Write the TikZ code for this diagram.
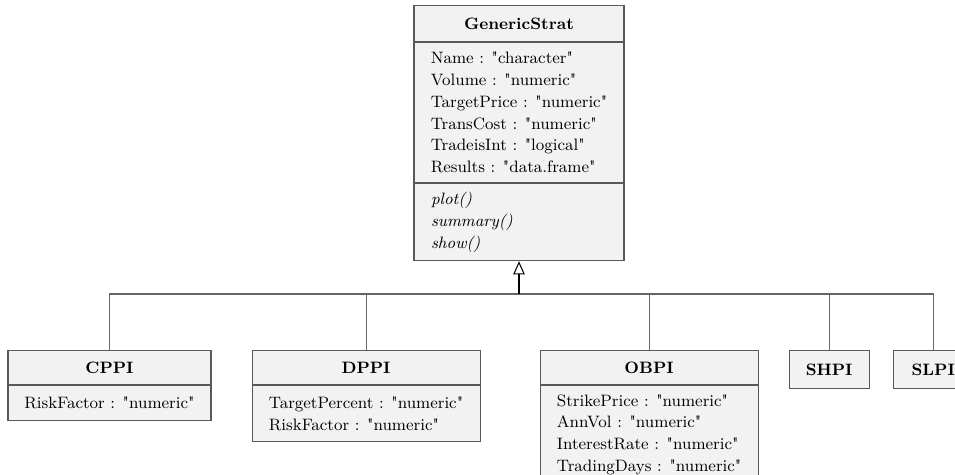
\documentclass[tikz,border=0pt]{standalone}
\usetikzlibrary{arrows.meta}
\usetikzlibrary{positioning}

\newcommand{\qstr}[1]{\textquotedbl#1\textquotedbl}

\begin{document}
\begin{tikzpicture}[node distance=0cm,
                every node/.style = {anchor=north, font=\fontsize{9.4pt}{12.4pt}\selectfont},
                classhead/.style = {draw=black!65, fill=black!5, line width=0.6pt, font=\fontsize{9.4pt}{12.4pt}\selectfont\bfseries, inner sep=0pt},
                classbody/.style = {draw=black!65, fill=black!5, line width=0.6pt, align=left, inner sep=0pt},
                inherit/.style = {draw=black!60, line width=0.6pt}]
            \useasboundingbox (0,0) rectangle (19.1,-9.5);

            \node (c_generic) [classhead, minimum width=4.2cm, minimum height=0.72cm] at (10.38,-0.1) {GenericStrat};
            \node (c_generic_attr) [classbody, below = of c_generic, minimum width=4.2cm, minimum height=2.8cm]
                {Name : \qstr{character} \\ Volume : \qstr{numeric} \\ TargetPrice : \qstr{numeric} \\ TransCost : \qstr{numeric} \\ TradeisInt : \qstr{logical} \\ Results : \qstr{data.frame}};
            \node (c_generic_meth) [classbody, below = of c_generic_attr, text width=3.52cm, inner xsep=0.34cm, minimum height=1.54cm]
                {\textit{plot()} \\ \textit{summary()} \\ \textit{show()}};

            \node (c_cppi) [classhead, minimum width=4.06cm, minimum height=0.68cm] at (2.19,-7.0) {CPPI};
            \node (c_cppi_attr) [classbody, below = of c_cppi, minimum width=4.06cm, minimum height=0.7cm] {RiskFactor : \qstr{numeric}};

            \node (c_dppi) [classhead, minimum width=4.56cm, minimum height=0.68cm, right = 0.8 of c_cppi.north east, anchor=north west] {DPPI};
            \node (c_dppi_attr) [classbody, below = of c_dppi, minimum width=4.56cm, minimum height=1.12cm]
                {TargetPercent : \qstr{numeric} \\ RiskFactor : \qstr{numeric}};

            \node (c_obpi) [classhead, minimum width=4.36cm, minimum height=0.68cm, right = 1.18 of c_dppi.north east, anchor=north west] {OBPI};
            \node (c_obpi_attr) [classbody, below = of c_obpi, minimum width=4.36cm, minimum height=1.96cm]
                {StrikePrice : \qstr{numeric} \\ AnnVol : \qstr{numeric} \\ InterestRate : \qstr{numeric} \\ TradingDays : \qstr{numeric}};

            \node (c_shpi) [classhead, minimum width=1.6cm, minimum height=0.76cm, right = 0.6 of c_obpi.north east, anchor=north west] {SHPI};
            \node (c_slpi) [classhead, minimum width=1.6cm, minimum height=0.76cm, right = 0.46 of c_shpi.north east, anchor=north west] {SLPI};

            \coordinate (bus) at (c_generic_meth.south |- 0,-5.88);

            \draw[inherit] (c_cppi.north) |- (bus);
            \draw[inherit] (c_dppi.north) |- (bus);
            \draw[inherit] (c_obpi.north) |- (bus);
            \draw[inherit] (c_shpi.north) |- (bus);
            \draw[inherit] (c_slpi.north) |- (bus);
            \draw[line width=0.6pt, -{Triangle[open, length=7.5pt, width=6.5pt]}] (bus) -- (c_generic_meth.south);
        \end{tikzpicture}
\end{document}
